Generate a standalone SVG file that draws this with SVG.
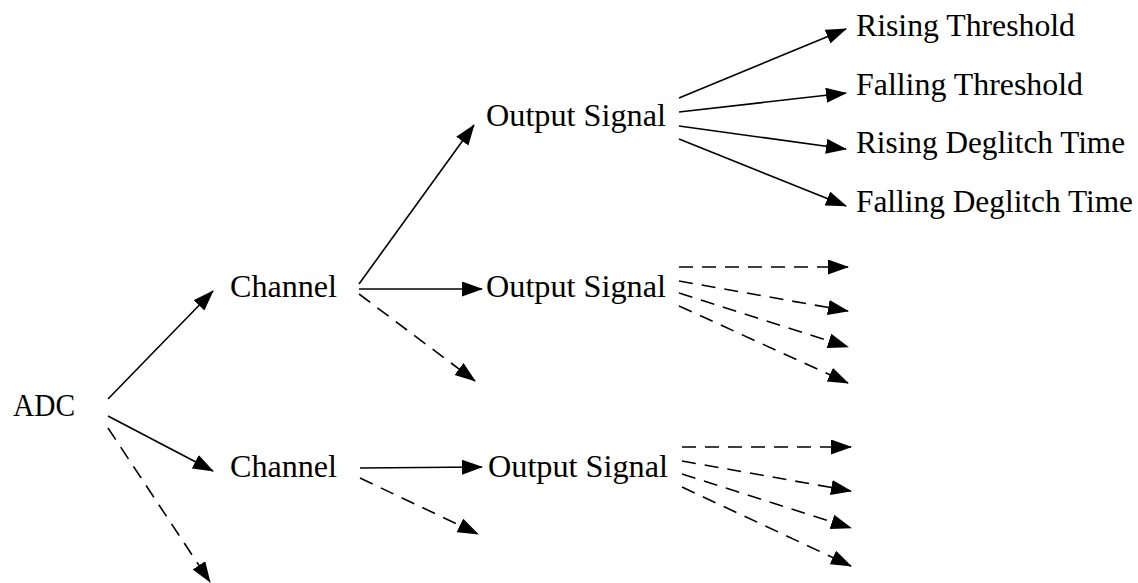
<svg xmlns="http://www.w3.org/2000/svg" width="1138" height="583" viewBox="0 0 1138 583">
  <style>
    .lbl { font-family: "Liberation Serif", "DejaVu Serif", serif; font-size: 31px; fill: #000; }
    .edge { stroke: #000; stroke-width: 1.6; fill: none; marker-end: url(#head); }
    .dash { stroke-dasharray: 14 9; }
  </style>
  <defs>
    <marker id="head" markerUnits="userSpaceOnUse" markerWidth="24" markerHeight="16" refX="20" refY="7.5" orient="auto">
      <path d="M0,0 L21,7.5 L0,15 Z" fill="#000"/>
    </marker>
  </defs>

  <rect width="1138" height="583" fill="#fff"/>

  <!-- connectors -->
  <g id="connectors">
    <!-- ADC fan-out -->
    <line class="edge" x1="108" y1="399" x2="213" y2="291"/>
    <line class="edge" x1="108" y1="416" x2="213" y2="471"/>
    <line class="edge dash" x1="108" y1="428" x2="210" y2="582"/>
    <!-- upper channel -->
    <line class="edge" x1="359" y1="284" x2="474" y2="125"/>
    <line class="edge" x1="359" y1="289" x2="482" y2="289"/>
    <line class="edge dash" x1="359" y1="294" x2="475" y2="381"/>
    <!-- lower channel -->
    <line class="edge" x1="360" y1="468" x2="482" y2="467"/>
    <line class="edge dash" x1="360" y1="478" x2="478" y2="534"/>
    <!-- upper output signal -->
    <line class="edge" x1="679" y1="98" x2="846" y2="29"/>
    <line class="edge" x1="679" y1="112" x2="846" y2="93"/>
    <line class="edge" x1="679" y1="126" x2="846" y2="149"/>
    <line class="edge" x1="679" y1="139" x2="846" y2="206"/>
    <!-- middle output signal -->
    <line class="edge dash" x1="679" y1="267" x2="848" y2="267"/>
    <line class="edge dash" x1="679" y1="281" x2="848" y2="311"/>
    <line class="edge dash" x1="679" y1="293" x2="848" y2="347"/>
    <line class="edge dash" x1="679" y1="306" x2="848" y2="383"/>
    <!-- lower output signal -->
    <line class="edge dash" x1="682" y1="447" x2="851" y2="447"/>
    <line class="edge dash" x1="682" y1="461" x2="851" y2="491"/>
    <line class="edge dash" x1="682" y1="474" x2="851" y2="528"/>
    <line class="edge dash" x1="682" y1="487" x2="851" y2="566"/>
  </g>

  <g id="adc"><text class="lbl" x="13" y="416" textLength="62" lengthAdjust="spacingAndGlyphs">ADC</text></g>

  <g id="channel-1"><text class="lbl" x="230" y="297" textLength="107" lengthAdjust="spacingAndGlyphs">Channel</text></g>
  <g id="channel-2"><text class="lbl" x="230" y="477" textLength="107" lengthAdjust="spacingAndGlyphs">Channel</text></g>

  <g id="output-signal-1"><text class="lbl" x="486" y="126" textLength="180" lengthAdjust="spacingAndGlyphs">Output Signal</text></g>
  <g id="output-signal-2"><text class="lbl" x="486" y="297" textLength="180" lengthAdjust="spacingAndGlyphs">Output Signal</text></g>
  <g id="output-signal-3"><text class="lbl" x="488" y="477" textLength="180" lengthAdjust="spacingAndGlyphs">Output Signal</text></g>

  <g id="rising-threshold"><text class="lbl" x="856" y="36" textLength="219" lengthAdjust="spacingAndGlyphs">Rising Threshold</text></g>
  <g id="falling-threshold"><text class="lbl" x="856" y="95" textLength="227" lengthAdjust="spacingAndGlyphs">Falling Threshold</text></g>
  <g id="rising-deglitch-time"><text class="lbl" x="856" y="153" textLength="269" lengthAdjust="spacingAndGlyphs">Rising Deglitch Time</text></g>
  <g id="falling-deglitch-time"><text class="lbl" x="856" y="212" textLength="277" lengthAdjust="spacingAndGlyphs">Falling Deglitch Time</text></g>
</svg>
